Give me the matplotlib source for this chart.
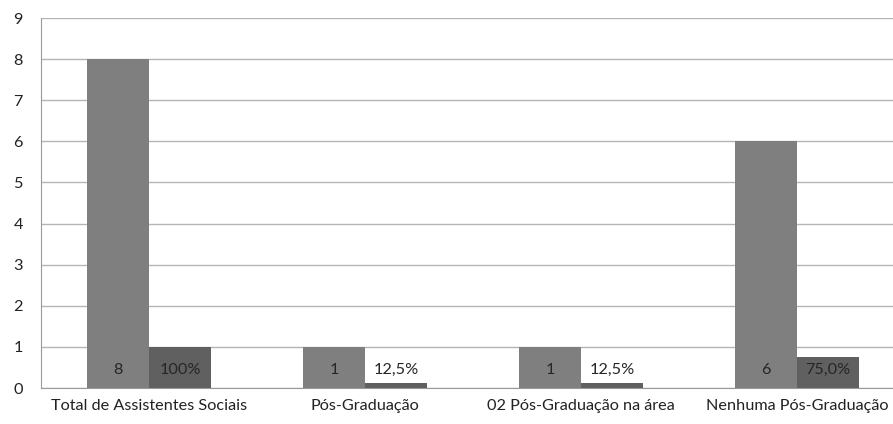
import numpy as np
import matplotlib.pyplot as plt

plt.rcParams['font.family'] = ['Lato', 'DejaVu Sans']

categorias = ['Total de Assistentes Sociais', 'Pós-Graduação',
              '02 Pós-Graduação na área', 'Nenhuma Pós-Graduação']
quantidade = [8, 1, 1, 6]
percentual = [1.0, 0.125, 0.125, 0.75]
rotulos_qtd = ['8', '1', '1', '6']
rotulos_pct = ['100%', '12,5%', '12,5%', '75,0%']

fig = plt.figure(figsize=(8.93, 4.24), dpi=100)
ax = fig.add_axes([0.0459, 0.0849, 0.9675, 0.8726])

x = np.arange(len(categorias))
w = 0.287
ax.bar(x - w / 2, quantidade, w, color='#7f7f7f', zorder=3)
ax.bar(x + w / 2, percentual, w, color='#606060', zorder=3)

for i in range(len(x)):
    ax.text(x[i] - w / 2, 0.45, rotulos_qtd[i], ha='center', va='center',
            fontsize=11.7, color='#262626', zorder=4)
    box = None
    if percentual[i] < 0.5:
        box = dict(facecolor='white', edgecolor='none', pad=2)
    ax.text(x[i] + w / 2, 0.45, rotulos_pct[i], ha='center', va='center',
            fontsize=11.7, color='#262626', zorder=4, bbox=box)

ax.set_xlim(-0.5, 3.5)
ax.set_ylim(0, 9)
ax.set_yticks(range(10))
ax.set_xticks(x)
ax.set_xticklabels(categorias)
ax.tick_params(length=0, labelsize=11.7, colors='#222222')
ax.tick_params(axis='y', pad=13)
ax.tick_params(axis='x', pad=8)
ax.grid(axis='y', color='#b5b5b5', linewidth=1, zorder=0)
for s in ['top', 'right']:
    ax.spines[s].set_visible(False)
for s in ['left', 'bottom']:
    ax.spines[s].set_color('#9a9a9a')

fig.savefig('out.png', dpi=100)
